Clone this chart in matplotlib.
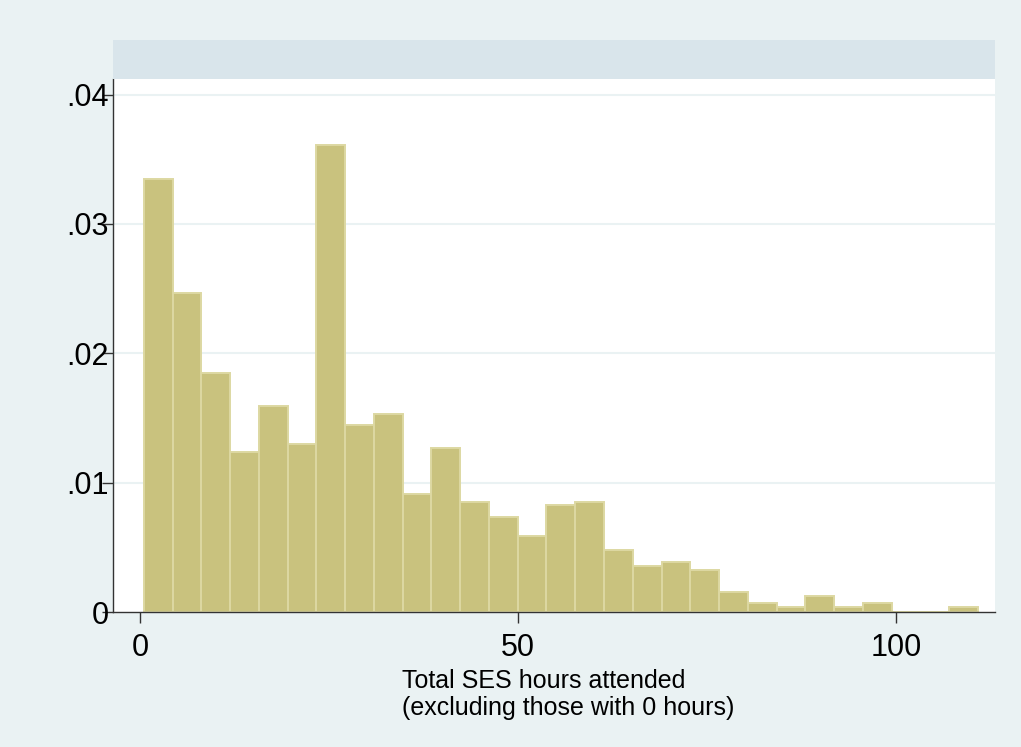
import matplotlib.pyplot as plt
from matplotlib.patches import Rectangle

# histogram bins (Stata style): 29 bins starting at 0.5, width ~3.8
bin_start = 0.5
bin_width = 3.805
density = [0.03348, 0.02466, 0.01851, 0.01239, 0.01589, 0.01296, 0.03610,
           0.01443, 0.01533, 0.00910, 0.01268, 0.00853, 0.00737, 0.00590,
           0.00826, 0.00853, 0.00476, 0.00357, 0.00383, 0.00326, 0.00154,
           0.00069, 0.00039, 0.00123, 0.00039, 0.00069, 0.0, 0.0, 0.00039]

x_ticks = [0, 50, 100]
x_ticklabels = ['0', '50', '100']
y_ticks = [0, 0.01, 0.02, 0.03, 0.04]
y_ticklabels = ['0', '.01', '.02', '.03', '.04']
x_label = 'Total SES hours attended\n(excluding those with 0 hours)'

W, H = 1021, 747
bg = '#EAF2F3'
strip = '#D9E5EB'
bar_fill = '#C9C27E'
bar_edge = '#DDD8A2'

plt.rcParams['font.family'] = ['Liberation Sans', 'DejaVu Sans']

fig = plt.figure(figsize=(W / 100, H / 100), dpi=100)
fig.patch.set_facecolor(bg)

# plot region in pixels
left, right, top, bottom = 113, 995, 79, 612
ax = fig.add_axes([left / W, 1 - bottom / H, (right - left) / W, (bottom - top) / H])
ax.set_facecolor('white')

# empty title strip above the plot
fig.patches.append(Rectangle((left / W, 1 - top / H), (right - left) / W, (top - 40) / H,
                             transform=fig.transFigure, facecolor=strip, edgecolor='none'))

lefts = [bin_start + i * bin_width for i in range(len(density))]
ax.bar(lefts, density, width=bin_width, align='edge', color=bar_fill,
       edgecolor=bar_edge, linewidth=1.4, zorder=3)

ax.set_xlim(-3.57, 113.1)
ax.set_ylim(0, 0.0412)

for y in y_ticks[1:]:
    ax.axhline(y, color=bg, linewidth=1.5, zorder=1)

ax.set_xticks(x_ticks)
ax.set_xticklabels(x_ticklabels, fontsize=22)
ax.set_yticks(y_ticks)
ax.set_yticklabels(y_ticklabels, fontsize=22)
ax.tick_params(axis='x', direction='out', length=8, width=1, color='#333333', pad=7)
ax.tick_params(axis='y', direction='out', length=8, width=1, color='#333333', pad=-5)

for side in ['top', 'right']:
    ax.spines[side].set_visible(False)
ax.spines['left'].set_color('#333333')
ax.spines['bottom'].set_color('#333333')
ax.spines['left'].set_linewidth(1)
ax.spines['bottom'].set_linewidth(1)
ax.spines['left'].set_zorder(5)
ax.spines['bottom'].set_zorder(5)

fig.text(402 / W, 1 - 669 / H, x_label, fontsize=18, ha='left', va='top',
         multialignment='left', linespacing=1.17)

plt.savefig('out.png', dpi=100, facecolor=bg)
